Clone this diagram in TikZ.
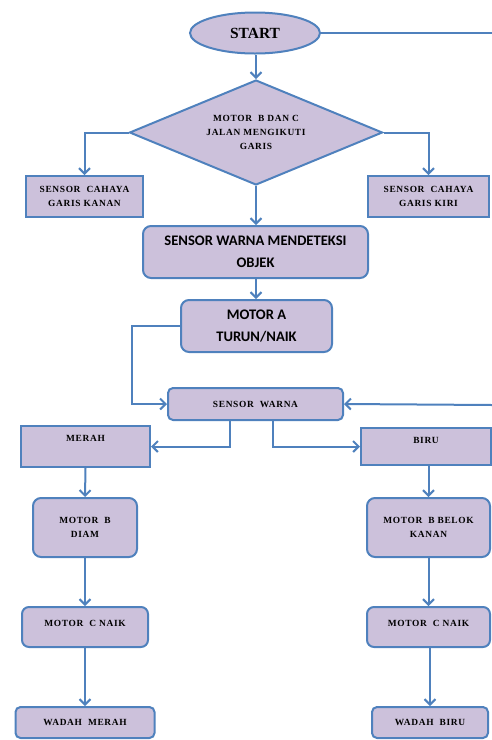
\documentclass[tikz,border=0pt]{standalone}
\usepackage{fontspec}
\setmainfont{Liberation Serif}
\newfontfamily\calfont{Carlito}
\newfontfamily\spserif[LetterSpace=7]{Liberation Serif}
\usetikzlibrary{shapes.geometric,arrows.meta}
\definecolor{bfill}{RGB}{204,193,219}
\definecolor{bline}{RGB}{79,129,189}
\tikzset{
  base/.style={draw=bline, fill=bfill, line width=2pt, inner sep=1pt, align=center},
  sfont/.style={font=\spserif\fontsize{9.4}{14}\selectfont\bfseries},
  cfont/.style={font=\calfont\fontsize{14.6}{21.5}\selectfont\bfseries},
  sq/.style={base, rectangle, sfont},
  rd/.style={base, rectangle, rounded corners=#1, sfont},
  rd/.default=7pt,
  arr/.style={draw=bline, line width=2pt, -{Straight Barb[length=5.5pt,width=11pt]}},
  ln/.style={draw=bline, line width=2pt},
}
\begin{document}
\begin{tikzpicture}[x=1pt,y=-1pt]
\useasboundingbox (0,0) rectangle (492,740);
% nodes
\node[base, ellipse, minimum width=130pt, minimum height=41pt, inner sep=0pt,
      font=\fontsize{15.5}{17}\selectfont\bfseries] (start) at (255,33) {START};
\node[base, diamond, aspect=2.4, minimum width=253pt, minimum height=105pt, inner sep=0pt, sfont] (dia) at (256,132.5)
  {MOTOR\ \ B DAN C\\JALAN MENGIKUTI\\GARIS};
\node[sq, minimum width=117pt, minimum height=41pt] (kanan) at (84.5,196.5) {SENSOR\ \ CAHAYA\\GARIS\ KANAN};
\node[sq, minimum width=121pt, minimum height=41pt] (kiri) at (428.5,196.5) {SENSOR\ \ CAHAYA\\GARIS\ KIRI};
\node[base, rectangle, rounded corners=8pt, cfont, minimum width=225pt, minimum height=52pt, inner sep=0pt] (objek) at (255.5,252)
  {SENSOR WARNA MENDETEKSI\\OBJEK};
\node[base, rectangle, rounded corners=8pt, cfont, minimum width=151pt, minimum height=52pt, inner sep=0pt] (motora) at (256.5,326)
  {MOTOR A\\TURUN/NAIK};
\node[rd=5pt, minimum width=175pt, minimum height=32pt] (sw) at (255.5,404) {SENSOR\ \ WARNA};
\node[sq, minimum width=129pt, minimum height=41pt, text height=6.5pt, text depth=16pt] (merah) at (85.5,446.5) {MERAH};
\node[sq, minimum width=130pt, minimum height=37pt, text height=6.5pt, text depth=13pt] (biru) at (426,446.5) {BIRU};
\node[rd=8pt, minimum width=104pt, minimum height=59pt] (diam) at (85,527.5) {MOTOR\ \ B\\DIAM};
\node[rd=8pt, minimum width=123pt, minimum height=59pt] (belok) at (428.5,527.5) {MOTOR\ \ B BELOK\\KANAN};
\node[rd=7pt, minimum width=126pt, minimum height=40pt, text height=6.5pt, text depth=8pt] (mcl) at (85,627) {MOTOR\ \ C NAIK};
\node[rd=7pt, minimum width=123pt, minimum height=40pt, text height=6.5pt, text depth=8pt] (mcr) at (428.5,627) {MOTOR\ \ C NAIK};
\node[rd=5pt, minimum width=139pt, minimum height=31pt] (wm) at (85,722.5) {WADAH\ \ MERAH};
\node[rd=5pt, minimum width=116pt, minimum height=31pt] (wb) at (430,722.5) {WADAH\ \ BIRU};
\coordinate (rtop) at (492,33);
\coordinate (rmid) at (492,405);
% connectors
\draw[ln] (start.east) -- (rtop);
\draw[arr] (start.south -| dia.north) -- (dia.north);
\draw[arr] (dia.west) -| (kanan.north);
\draw[arr] (dia.east) -| (kiri.north);
\draw[arr] (dia.south) -- (objek.north -| dia.south);
\draw[arr] (objek.south -| dia.south) -- (motora.north -| dia.south);
\draw[arr] (motora.west) -- ++(-48,0) |- (sw.west);
\draw[arr] (rmid) -- (sw.east);
\draw[arr] ([xshift=-25.5pt]sw.south) |- (merah.east);
\draw[arr] ([xshift=17.5pt]sw.south) |- (biru.west);
\draw[arr] (merah.south) -- (diam.north);
\draw[arr] (biru.south -| belok.north) -- (belok.north);
\draw[arr] (diam.south) -- (mcl.north);
\draw[arr] (belok.south) -- (mcr.north);
\draw[arr] (mcl.south) -- (wm.north);
\draw[arr] (mcr.south -| wb.north) -- (wb.north);
\end{tikzpicture}
\end{document}
